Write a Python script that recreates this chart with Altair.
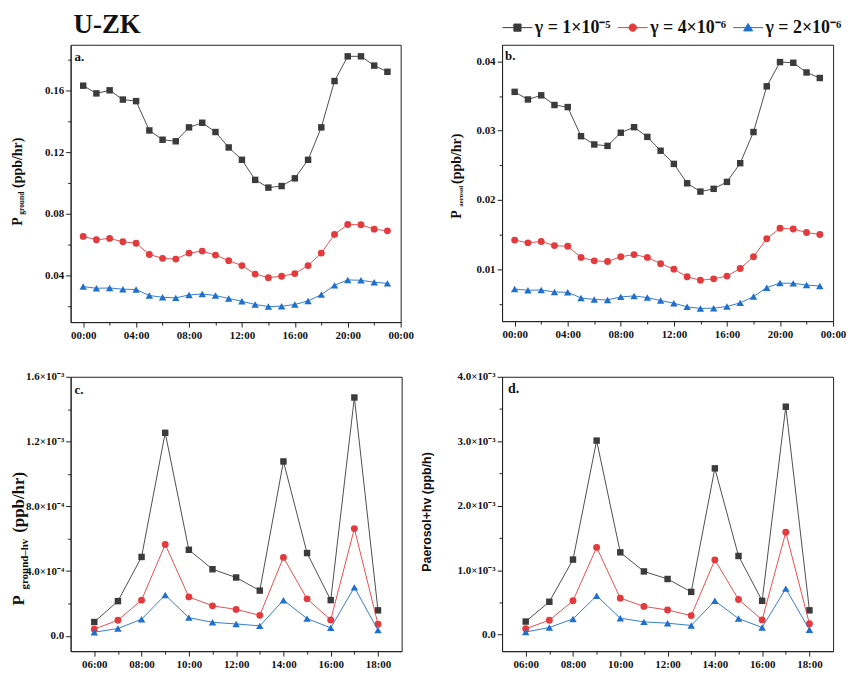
import altair as alt
import pandas as pd

# ---------------- data ----------------
series_labels = ["γ = 1×10⁻⁵", "γ = 4×10⁻⁶", "γ = 2×10⁻⁶"]
series_colors = ["#3b3b3b", "#e33b3d", "#1f6fcc"]
series_shapes = ["square", "circle", "triangle-up"]
series_sizes = [42, 48, 56]

hours24 = list(range(24))
a_g1 = [0.163, 0.158, 0.160, 0.154, 0.153, 0.134, 0.128, 0.127, 0.136, 0.139, 0.133, 0.123,
        0.115, 0.102, 0.097, 0.098, 0.103, 0.115, 0.136, 0.166, 0.182, 0.182, 0.176, 0.172]
a_g2 = [0.0654, 0.0632, 0.0641, 0.0619, 0.0610, 0.0537, 0.0512, 0.0507, 0.0546, 0.0559, 0.0533, 0.0497,
        0.0465, 0.0410, 0.0387, 0.0396, 0.0413, 0.0465, 0.0546, 0.0667, 0.0731, 0.0729, 0.0701, 0.0690]
a_g3 = [0.0329, 0.0318, 0.0320, 0.0312, 0.0310, 0.0271, 0.0260, 0.0256, 0.0275, 0.0281, 0.0271, 0.0252,
        0.0234, 0.0213, 0.0200, 0.0202, 0.0213, 0.0236, 0.0277, 0.0337, 0.0372, 0.0370, 0.0357, 0.0350]

b_g1 = [0.0356, 0.0345, 0.0351, 0.0337, 0.0334, 0.0292, 0.0280, 0.0278, 0.0297, 0.0305, 0.0291, 0.0271,
        0.0252, 0.0224, 0.0212, 0.0216, 0.0226, 0.0253, 0.0298, 0.0364, 0.0399, 0.0398, 0.0384, 0.0376]
b_g2 = [0.0142, 0.0138, 0.0140, 0.0134, 0.0133, 0.0117, 0.0112, 0.0111, 0.0118, 0.0121, 0.0117, 0.0108,
        0.0100, 0.0089, 0.0084, 0.0086, 0.0090, 0.0101, 0.0118, 0.0144, 0.0159, 0.0158, 0.0153, 0.0150]
b_g3 = [0.00713, 0.00695, 0.00700, 0.00670, 0.00666, 0.00585, 0.00562, 0.00556, 0.00600, 0.00613, 0.00590, 0.00547,
        0.00509, 0.00456, 0.00433, 0.00437, 0.00461, 0.00513, 0.00604, 0.00733, 0.00799, 0.00795, 0.00771, 0.00756]

hours_day = list(range(6, 19))
c_g1 = [8.5e-5, 2.14e-4, 4.87e-4, 1.254e-3, 5.31e-4, 4.11e-4, 3.6e-4, 2.79e-4, 1.077e-3, 5.11e-4, 2.2e-4, 1.472e-3, 1.57e-4]
c_g2 = [4.1e-5, 9.6e-5, 2.2e-4, 5.64e-4, 2.4e-4, 1.85e-4, 1.63e-4, 1.26e-4, 4.84e-4, 2.28e-4, 9.8e-5, 6.62e-4, 7.1e-5]
c_g3 = [2.2e-5, 4.5e-5, 1.02e-4, 2.52e-4, 1.12e-4, 8.3e-5, 7.3e-5, 6.1e-5, 2.2e-4, 1.06e-4, 4.9e-5, 2.99e-4, 3.5e-5]

d_g1 = [2.04e-4, 5.11e-4, 1.165e-3, 3.01e-3, 1.277e-3, 9.81e-4, 8.64e-4, 6.64e-4, 2.58e-3, 1.221e-3, 5.26e-4, 3.536e-3, 3.78e-4]
d_g2 = [9.2e-5, 2.25e-4, 5.26e-4, 1.354e-3, 5.67e-4, 4.39e-4, 3.83e-4, 2.96e-4, 1.16e-3, 5.47e-4, 2.3e-4, 1.589e-3, 1.69e-4]
d_g3 = [4.1e-5, 1.12e-4, 2.45e-4, 6.03e-4, 2.55e-4, 1.99e-4, 1.79e-4, 1.43e-4, 5.26e-4, 2.5e-4, 1.12e-4, 7.15e-4, 7.7e-5]

# axis ticks / labels
x24_major = [0, 4, 8, 12, 16, 20, 24]
x24_labels = ["00:00", "04:00", "08:00", "12:00", "16:00", "20:00", "00:00"]
x24_minor = [2, 6, 10, 14, 18, 22]
xday_major = [6, 8, 10, 12, 14, 16, 18]
xday_labels = ["06:00", "08:00", "10:00", "12:00", "14:00", "16:00", "18:00"]
xday_minor = [7, 9, 11, 13, 15, 17]

a_y_major = [0.04, 0.08, 0.12, 0.16]
a_y_labels = ["0.04", "0.08", "0.12", "0.16"]
a_y_minor = [0.02, 0.06, 0.10, 0.14, 0.18]
b_y_major = [0.01, 0.02, 0.03, 0.04]
b_y_labels = ["0.01", "0.02", "0.03", "0.04"]
b_y_minor = [0.005, 0.015, 0.025, 0.035]
c_y_major = [0.0, 4e-4, 8e-4, 1.2e-3, 1.6e-3]
c_y_labels = ["0.0", "4.0×10⁻⁴", "8.0×10⁻⁴", "1.2×10⁻³", "1.6×10⁻³"]
c_y_minor = [2e-4, 6e-4, 1e-3, 1.4e-3]
d_y_major = [0.0, 1e-3, 2e-3, 3e-3, 4e-3]
d_y_labels = ["0.0", "1.0×10⁻³", "2.0×10⁻³", "3.0×10⁻³", "4.0×10⁻³"]
d_y_minor = [5e-4, 1.5e-3, 2.5e-3, 3.5e-3]

# legend symbols: line segment with marker
legend_paths = [
    "M-1,0H1M-0.24,-0.24H0.24V0.24H-0.24Z",
    "M-1,0H1M-0.25,0A0.25,0.25,0,1,0,0.25,0A0.25,0.25,0,1,0,-0.25,0Z",
    "M-1,0H1M0,-0.28L0.3,0.22L-0.3,0.22Z",
]

SERIF = "Liberation Serif"
SANS = "Liberation Sans"


def label_expr(values, labels):
    expr = "''"
    for v, l in reversed(list(zip(values, labels))):
        expr = f"datum.value === {v!r} ? '{l}' : ({expr})"
    return expr


def make_axis(major, labels, minor, orient):
    test = "indexof([" + ",".join(repr(v) for v in major) + "], datum.value) >= 0"
    return alt.Axis(
        values=sorted(major + minor),
        labelExpr=label_expr(major, labels),
        tickSize={"condition": {"test": test, "value": 5}, "value": 3},
        orient=orient,
        grid=False,
        title=None,
        labelFont=SERIF,
        labelFontWeight="bold",
        labelFontSize=11,
        labelColor="#111",
        tickColor="#222",
        domainColor="#222",
        labelPadding=2,
        labelOverlap=False,
        labelFlush=False,
    )


def text_layer(txt, x, y, size, font=SERIF, angle=0, align="left", baseline="alphabetic", weight="bold"):
    kw = dict(font=font, fontSize=size, fontWeight=weight, align=align, baseline=baseline, color="#111")
    if angle:
        kw["angle"] = angle
    return alt.Chart(pd.DataFrame({"t": [txt]})).mark_text(**kw).encode(
        x=alt.value(x), y=alt.value(y), text="t:N"
    )


def panel(hours, vals, xdom, ydom, xaxis, yaxis, width, height, extras):
    rows = []
    for lab, ys in zip(series_labels, vals):
        for h, v in zip(hours, ys):
            rows.append({"hour": h, "value": v, "series": lab})
    df = pd.DataFrame(rows)
    xenc = alt.X("hour:Q", scale=alt.Scale(domain=xdom, nice=False, zero=False), axis=xaxis)
    yenc = alt.Y("value:Q", scale=alt.Scale(domain=ydom, nice=False, zero=False), axis=yaxis)
    layers = []
    for lab, col, shp, sz in zip(series_labels, series_colors, series_shapes, series_sizes):
        base = alt.Chart(df).transform_filter(alt.datum.series == lab)
        layers.append(base.mark_line(color=col, strokeWidth=1, opacity=0.9).encode(x=xenc, y=yenc))
        layers.append(base.mark_point(filled=True, shape=shp, size=sz, color=col, opacity=1).encode(x=xenc, y=yenc))
    return alt.layer(*layers, *extras).properties(width=width, height=height)


# ---- panel a ----
a_extras = [
    text_layer("a.", 4, 16, 13),
    text_layer("U-ZK", 3, -33, 27, baseline="top"),
    text_layer("P", -53, 182, 14, angle=270, baseline="middle"),
    text_layer("ground", -49, 171, 7.5, angle=270, baseline="middle"),
    text_layer("(ppb/hr)", -53, 144, 14, angle=270, baseline="middle"),
]
chart_a = panel(hours24, [a_g1, a_g2, a_g3], [-0.95, 24], [0.0099, 0.1895],
                make_axis(x24_major, x24_labels, x24_minor, "bottom"),
                make_axis(a_y_major, a_y_labels, a_y_minor, "left"), 332, 279, a_extras)

# ---- panel b ----
legend_df = pd.DataFrame({"series": series_labels})
leg = alt.Legend(
    title=None, orient="none", legendX=0, legendY=-33, direction="horizontal",
    symbolSize=900, symbolStrokeWidth=1, symbolOpacity=1,
    labelFont=SERIF, labelFontSize=18, labelFontWeight="bold", labelColor="#111",
    labelOffset=2, columnPadding=4, padding=0,
)
legend_layer = alt.Chart(legend_df).mark_point(filled=True, opacity=0).encode(
    x=alt.value(0), y=alt.value(0),
    fill=alt.Fill("series:N", scale=alt.Scale(domain=series_labels, range=series_colors), legend=leg),
    stroke=alt.Stroke("series:N", scale=alt.Scale(domain=series_labels, range=series_colors), legend=leg),
    shape=alt.Shape("series:N", scale=alt.Scale(domain=series_labels, range=legend_paths), legend=leg),
)
b_extras = [
    legend_layer,
    text_layer("b.", 3, 15, 13),
    text_layer("P", -45, 175, 14, angle=270, baseline="middle"),
    text_layer("aerosol", -41, 163, 7, angle=270, baseline="middle"),
    text_layer("(ppb/hr)", -45, 140, 14, angle=270, baseline="middle"),
]
chart_b = panel(hours24, [b_g1, b_g2, b_g3], [-0.95, 24], [0.0025, 0.0424],
                make_axis(x24_major, x24_labels, x24_minor, "bottom"),
                make_axis(b_y_major, b_y_labels, b_y_minor, "left"), 333, 278, b_extras)

# ---- panel c ----
c_extras = [
    text_layer("c.", 4, 17, 13),
    text_layer("P", -52, 230, 17, angle=270, baseline="middle"),
    text_layer("ground–hv", -46, 214, 11, angle=270, baseline="middle"),
    text_layer("(ppb/hr)", -52, 157, 17, angle=270, baseline="middle"),
]
chart_c = panel(hours_day, [c_g1, c_g2, c_g3], [5, 19], [-0.95e-4, 1.6e-3],
                make_axis(xday_major, xday_labels, xday_minor, "bottom"),
                make_axis(c_y_major, c_y_labels, c_y_minor, "left"), 333, 276, c_extras)

# ---- panel d ----
d_extras = [
    text_layer("d.", 6, 16, 14),
    text_layer("Paerosol+hv (ppb/h)", -75, 136, 12.5, font=SANS, angle=270, align="center", baseline="middle"),
]
chart_d = panel(hours_day, [d_g1, d_g2, d_g3], [5, 19], [-2.55e-4, 4e-3],
                make_axis(xday_major, xday_labels, xday_minor, "bottom"),
                make_axis(d_y_major, d_y_labels, d_y_minor, "left"), 333, 276, d_extras)

chart = alt.concat(chart_a, chart_b, chart_c, chart_d, columns=2, spacing={"row": 29, "column": 6}).resolve_scale(
    fill="independent", stroke="independent", shape="independent"
).properties(
    padding={"left": 1, "top": 0, "right": 0, "bottom": 0}
).configure_view(stroke="#222", strokeWidth=1)

chart.save("out.html", embed_options={"renderer": "svg", "actions": False})
